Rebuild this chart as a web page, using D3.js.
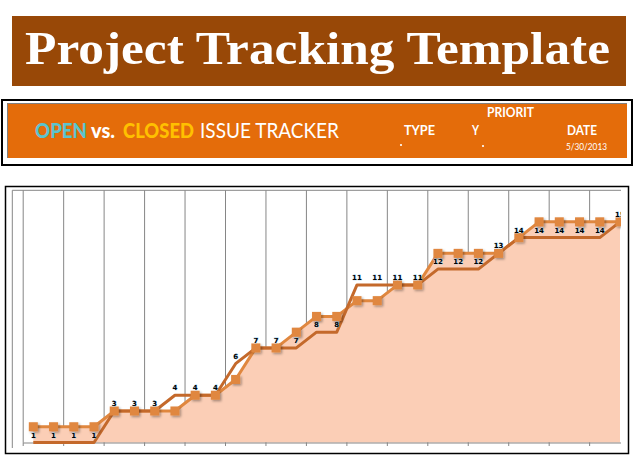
<!DOCTYPE html>
<html>
<head>
<meta charset="utf-8">
<script src="https://cdn.jsdelivr.net/npm/d3@7"></script>
<style>
  body { margin: 0; background: #fff; }
  svg { display: block; }
</style>
</head>
<body>
<script>
const width = 635;
const height = 459;

// 30 tracked days
const days = d3.range(1, 31);
// open issues (square markers + filled area)
const openIssues = [2, 2, 2, 2, 3, 3, 3, 3, 4, 4, 5, 7, 7, 8, 9, 9, 10, 10, 11, 11, 13, 13, 13, 13, 14, 15, 15, 15, 15, 15];
// closed issues (dark line, labelled)
const closedIssues = [1, 1, 1, 1, 3, 3, 3, 4, 4, 4, 6, 7, 7, 7, 8, 8, 11, 11, 11, 11, 12, 12, 12, 13, 14, 14, 14, 14, 14, 15];
const yDomain = [1, 17];

const brown = "#984807";
const orange = "#e46c0a";
const openColor = "#e0873f";
const closedColor = "#c4692b";
const areaColor = "#fbceb6";
const gridColor = "#868686";

const svg = d3.select("body").append("svg")
  .attr("width", width)
  .attr("height", height);

const defs = svg.append("defs");
defs.append("filter")
  .attr("id", "shadow")
  .attr("x", "-50%").attr("y", "-50%")
  .attr("width", "200%").attr("height", "200%")
  .append("feDropShadow")
  .attr("dx", 1.5).attr("dy", 1.5)
  .attr("stdDeviation", 1)
  .attr("flood-color", "#000")
  .attr("flood-opacity", 0.35);

// title banner
svg.append("rect")
  .attr("x", 12).attr("y", 16)
  .attr("width", 614).attr("height", 70)
  .attr("fill", brown);

svg.append("text")
  .attr("x", 25).attr("y", 64)
  .attr("textLength", 585)
  .attr("lengthAdjust", "spacingAndGlyphs")
  .style("font-family", "'Liberation Serif', 'DejaVu Serif', serif")
  .style("font-weight", "bold")
  .style("font-size", "46px")
  .attr("fill", "#fff")
  .text("Project Tracking Template");

// tracker header band
svg.append("rect")
  .attr("x", 2).attr("y", 100)
  .attr("width", 630).attr("height", 65)
  .attr("fill", "none")
  .attr("stroke", "#000")
  .attr("stroke-width", 2);

svg.append("rect")
  .attr("x", 7).attr("y", 103)
  .attr("width", 620).attr("height", 55)
  .attr("fill", orange);

svg.append("path")
  .attr("d", "M7.5,158 V103.5 H627")
  .attr("fill", "none")
  .attr("stroke", "#808080")
  .attr("stroke-width", 1);

const sans = "Lato, 'Open Sans', sans-serif";

const headerParts = [
  { text: "OPEN", x: 35, w: 52, color: "#5bc4ce", bold: true },
  { text: "vs.", x: 91, w: 24, color: "#fff", bold: true },
  { text: "CLOSED", x: 123, w: 71, color: "#ffc000", bold: true },
  { text: "ISSUE TRACKER", x: 200, w: 139, color: "#fff", bold: false }
];

svg.selectAll("text.head")
  .data(headerParts)
  .join("text")
  .attr("class", "head")
  .attr("x", d => d.x)
  .attr("y", 138)
  .attr("textLength", d => d.w)
  .attr("lengthAdjust", "spacingAndGlyphs")
  .style("font-family", sans)
  .style("font-size", "21px")
  .style("font-weight", d => d.bold ? "900" : "normal")
  .attr("fill", d => d.color)
  .text(d => d.text);

const fieldLabels = [
  { text: "TYPE", x: 404, y: 135, w: 31 },
  { text: "PRIORIT", x: 487, y: 117, w: 47 },
  { text: "Y", x: 472, y: 135, w: 7 },
  { text: "DATE", x: 567, y: 135, w: 30 }
];

svg.selectAll("text.field")
  .data(fieldLabels)
  .join("text")
  .attr("class", "field")
  .attr("x", d => d.x)
  .attr("y", d => d.y)
  .attr("textLength", d => d.w)
  .attr("lengthAdjust", "spacingAndGlyphs")
  .style("font-family", sans)
  .style("font-size", "12.5px")
  .style("font-weight", "bold")
  .attr("fill", "#fff")
  .text(d => d.text);

svg.append("text")
  .attr("x", 566).attr("y", 149.5)
  .attr("textLength", 41)
  .attr("lengthAdjust", "spacingAndGlyphs")
  .style("font-family", sans)
  .style("font-size", "9px")
  .attr("fill", "#fff")
  .text("5/30/2013");

svg.selectAll("circle.dot")
  .data([[401, 145], [483, 146]])
  .join("circle")
  .attr("class", "dot")
  .attr("cx", d => d[0]).attr("cy", d => d[1])
  .attr("r", 1.1)
  .attr("fill", "#fff");

// chart frame
svg.append("rect")
  .attr("x", 5.5).attr("y", 186.5)
  .attr("width", 623).attr("height", 267)
  .attr("fill", "none")
  .attr("stroke", "#000")
  .attr("stroke-width", 1.5);

const plot = { left: 23.2, right: 621, top: 190.3, bottom: 442.5 };
const step = 20.23;

const x = d3.scaleBand()
  .domain(days)
  .range([plot.left, plot.left + step * days.length])
  .padding(0);

const y = d3.scaleLinear()
  .domain(yDomain)
  .range([plot.bottom, plot.top]);

const cx = d => x(d) + x.bandwidth() / 2;

defs.append("clipPath")
  .attr("id", "plotClip")
  .append("rect")
  .attr("x", 0).attr("y", 180)
  .attr("width", plot.right).attr("height", 280);

const g = svg.append("g").attr("clip-path", "url(#plotClip)");

// vertical gridlines every two days
const gridDays = days.filter((d, i) => i % 2 === 0);
g.selectAll("line.grid")
  .data(gridDays)
  .join("line")
  .attr("class", "grid")
  .attr("x1", d => x(d)).attr("x2", d => x(d))
  .attr("y1", y(yDomain[1])).attr("y2", plot.bottom)
  .attr("stroke", gridColor)
  .attr("stroke-width", 1);

// top gridline
g.append("line")
  .attr("x1", 12.3).attr("x2", plot.right)
  .attr("y1", y(yDomain[1])).attr("y2", y(yDomain[1]))
  .attr("stroke", gridColor);

// value axis line
svg.append("line")
  .attr("x1", 12.3).attr("x2", 12.3)
  .attr("y1", y(yDomain[1])).attr("y2", plot.bottom + 5.5)
  .attr("stroke", gridColor);

// filled area of open issues
const area = d3.area()
  .x((d, i) => cx(days[i]))
  .y0(y(yDomain[0]))
  .y1(d => y(d));

g.append("path")
  .datum(openIssues)
  .attr("d", area)
  .attr("fill", areaColor);

// category axis
const xAxis = d3.axisBottom(x)
  .tickValues(gridDays)
  .tickSize(3.5)
  .tickFormat("");

const axisG = g.append("g")
  .attr("transform", `translate(0,${plot.bottom})`)
  .call(xAxis);
axisG.select(".domain").attr("stroke", gridColor).attr("d", `M${plot.left},0.5H${plot.right}`);
axisG.selectAll(".tick line")
  .attr("stroke", gridColor)
  .attr("transform", `translate(${-x.bandwidth() / 2},0)`);

const line = d3.line()
  .x((d, i) => cx(days[i]))
  .y(d => y(d));

g.append("path")
  .datum(openIssues)
  .attr("d", line)
  .attr("fill", "none")
  .attr("stroke", openColor)
  .attr("stroke-width", 3)
  .attr("stroke-linejoin", "round");

g.append("path")
  .datum(closedIssues)
  .attr("d", line)
  .attr("fill", "none")
  .attr("stroke", closedColor)
  .attr("stroke-width", 3)
  .attr("stroke-linejoin", "round");

const markerSize = 9;
g.selectAll("rect.marker")
  .data(openIssues)
  .join("rect")
  .attr("class", "marker")
  .attr("x", (d, i) => cx(days[i]) - markerSize / 2)
  .attr("y", d => y(d) - markerSize / 2)
  .attr("width", markerSize)
  .attr("height", markerSize)
  .attr("fill", openColor)
  .attr("filter", "url(#shadow)");

g.selectAll("text.label")
  .data(closedIssues)
  .join("text")
  .attr("class", "label")
  .attr("x", (d, i) => cx(days[i]))
  .attr("y", d => y(d) - 5)
  .attr("text-anchor", "middle")
  .style("font-family", "'DejaVu Sans', sans-serif")
  .style("font-size", "7px")
  .style("font-weight", "bold")
  .attr("fill", "#000")
  .attr("stroke", "#9fd3f0")
  .attr("stroke-width", 0.6)
  .attr("paint-order", "stroke")
  .text(d => d);
</script>
</body>
</html>
